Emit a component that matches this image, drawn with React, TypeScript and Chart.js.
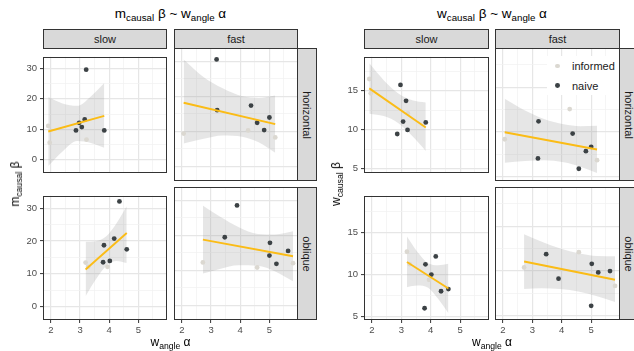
import React, { useEffect, useRef } from "react";
import { Chart, registerables } from "chart.js";
Chart.register(...registerables);

// ---------- axis ticks ----------
const xMajorTicks = [2, 3, 4, 5];
const xMinorTicks = [2.5, 3.5, 4.5, 5.5];
const xRange = [1.73, 5.98];
const mYMajorTicks = [0, 10, 20, 30];
const mYMinorTicks = [5, 15, 25];
const mYRange = [-4.15, 33.85];
const wYMajorTicks = [5, 10, 15];
const wYMinorTicks = [7.5, 12.5, 17.5];
const wYRange = [4.56, 19.35];

const columns = ["slow", "fast"];
const rows = ["horizontal", "oblique"];
const groups = ["informed", "naive"];

// ---------- w_angle alpha (shared by both plots) ----------
const slowHorizInformedX = [1.91, 1.96, 3.22];
const slowHorizNaiveX = [2.86, 2.97, 3.06, 3.16, 3.21, 3.83];
const fastHorizInformedX = [2.06, 4.27, 5.2];
const fastHorizNaiveX = [3.19, 3.21, 4.37, 4.58, 4.82, 5.0];
const slowObliqInformedX = [3.19, 3.28, 3.94];
const slowObliqNaiveX = [3.79, 3.82, 4.02, 4.17, 4.35, 4.6];
const fastObliqInformedX = [2.72, 4.58, 5.81];
const fastObliqNaiveX = [3.47, 3.89, 5.0, 5.02, 5.24, 5.64];

// ---------- m_causal beta ----------
const mSlowHorizInformedY = [11.1, 5.6, 6.6];
const mSlowHorizNaiveY = [9.6, 12.1, 10.7, 13.2, 29.6, 9.6];
const mFastHorizInformedY = [9.4, 10.3, 8.3];
const mFastHorizNaiveY = [30.6, 16.1, 17.4, 12.5, 10.4, 14.0];
const mSlowObliqInformedY = [13.4, 12.1, 12.1];
const mSlowObliqNaiveY = [13.5, 18.7, 13.9, 20.75, 32.1, 17.45];
const mFastObliqInformedY = [12.3, 10.85, 12.1];
const mFastObliqNaiveY = [19.5, 28.6, 14.25, 17.9, 11.9, 15.6];

// ---------- w_causal beta ----------
const wSlowHorizInformedY = [16.5, 14.67, 12.1];
const wSlowHorizNaiveY = [9.46, 15.74, 11.05, 13.7, 9.98, 10.94];
const wFastHorizInformedY = [9.2, 12.56, 6.88];
const wFastHorizNaiveY = [7.07, 11.2, 9.83, 5.92, 7.88, 8.36];
const wSlowObliqInformedY = [12.68, 11.21, 9.34];
const wSlowObliqNaiveY = [5.96, 11.18, 9.96, 12.13, 7.98, 8.24];
const wFastObliqInformedY = [10.4, 12.1, 8.35];
const wFastObliqNaiveY = [11.88, 9.15, 6.14, 10.81, 9.85, 10.0];

// ---------- fitted lines (ends) ----------
const slowHorizFitX = [1.91, 3.83];
const fastHorizFitX = [2.06, 5.2];
const slowObliqFitX = [3.19, 4.6];
const fastObliqFitX = [2.72, 5.81];
const mSlowHorizFitY = [9.25, 14.4];
const mFastHorizFitY = [18.2, 12.1];
const mSlowObliqFitY = [11.3, 22.45];
const mFastObliqFitY = [18.8, 14.05];
const wSlowHorizFitY = [15.3, 10.28];
const wFastHorizFitY = [9.98, 8.06];
const wSlowObliqFitY = [11.47, 8.31];
const wFastObliqFitY = [11.07, 9.04];

// ---------- confidence bands ----------
const slowHorizBandX = [1.91, 2.4, 2.9, 3.37, 3.83];
const fastHorizBandX = [2.06, 2.75, 3.4, 4.07, 4.63, 5.2];
const slowObliqBandX = [3.19, 3.55, 3.91, 4.25, 4.6];
const fastObliqBandX = [2.72, 3.3, 3.95, 4.6, 5.2, 5.81];
const mSlowHorizBandHi = [20.6, 18.5, 17.7, 20.8, 25.2];
const mSlowHorizBandLo = [-2.1, 2.7, 6.1, 5.5, 3.9];
const mFastHorizBandHi = [30.6, 25.5, 22.35, 20.05, 19.6, 20.3];
const mFastHorizBandLo = [6.6, 7.9, 8.85, 8.5, 6.9, 3.9];
const mSlowObliqBandHi = [19.8, 19.95, 21.5, 25.4, 30.6];
const mSlowObliqBandLo = [3.1, 8.35, 12.5, 13.9, 13.3];
const mFastObliqBandHi = [28.5, 25.4, 22.35, 20.45, 20.3, 21.2];
const mFastObliqBandLo = [9.1, 10.45, 11.5, 11.35, 9.7, 6.9];
const wSlowHorizBandHi = [18.5, 16.35, 14.64, 13.79, 13.5];
const wSlowHorizBandLo = [12.05, 11.75, 10.84, 9.19, 7.3];
const wFastHorizBandHi = [13.7, 12.4, 11.46, 10.86, 10.65, 10.7];
const wFastHorizBandLo = [6.6, 6.78, 6.86, 6.64, 6.15, 5.45];
const wSlowObliqBandHi = [14.5, 12.66, 11.31, 11.08, 11.25];
const wSlowObliqBandLo = [8.47, 8.66, 8.41, 7.08, 5.35];
const wFastObliqBandHi = [14.1, 13.3, 12.52, 11.96, 11.68, 11.65];
const wFastObliqBandLo = [8.02, 8.08, 8.0, 7.7, 7.2, 6.55];

// ---------- styles ----------
const FONT = '"Liberation Sans", Arial, Helvetica, sans-serif';
const NAIVE = "#3c4245";
const INFORMED = "#dbd8d1";
const FIT = "#fbbc16";
const RIBBON = "rgba(150,150,150,0.24)";
const POINT_R = 2.4;

const borderPlugin = {
  id: "panelBorder",
  afterDraw(chart: any) {
    const { ctx, chartArea } = chart;
    ctx.save();
    ctx.strokeStyle = "#333333";
    ctx.lineWidth = 1;
    ctx.strokeRect(
      Math.round(chartArea.left) + 0.5,
      Math.round(chartArea.top) + 0.5,
      Math.round(chartArea.right - chartArea.left) - 1,
      Math.round(chartArea.bottom - chartArea.top) - 1
    );
    ctx.restore();
  },
};

const pts = (xs: number[], ys: number[]) => xs.map((x, i) => ({ x, y: ys[i] }));

function Panel(p: any) {
  const ref = useRef<HTMLCanvasElement>(null);
  const yW = p.showY ? 32 : 0;
  const xH = p.showX ? 18 : 0;
  const cw = yW + p.width;
  const ch = xH + p.height;
  useEffect(() => {
    const xTicks = [...p.xMajor, ...p.xMinor].sort((a: number, b: number) => a - b);
    const yTicks = [...p.yMajor, ...p.yMinor].sort((a: number, b: number) => a - b);
    const isMajor = (list: number[], v: number) => list.some((m) => Math.abs(m - v) < 1e-9);
    const chart = new Chart(ref.current as HTMLCanvasElement, {
      type: "scatter",
      data: {
        datasets: [
          {
            type: "line",
            data: pts(p.fitX, p.fitY),
            borderColor: FIT,
            borderWidth: 1.9,
            pointRadius: 0,
            fill: false,
            order: 0,
          } as any,
          {
            type: "scatter",
            data: pts(p.naiveX, p.naiveY),
            backgroundColor: NAIVE,
            borderWidth: 0,
            pointRadius: POINT_R,
            order: 1,
          },
          {
            type: "scatter",
            data: pts(p.informedX, p.informedY),
            backgroundColor: INFORMED,
            borderWidth: 0,
            pointRadius: POINT_R,
            order: 2,
          },
          {
            type: "line",
            data: pts(p.bandX, p.bandHi),
            borderWidth: 0,
            borderColor: "rgba(0,0,0,0)",
            pointRadius: 0,
            backgroundColor: RIBBON,
            fill: "+1",
            cubicInterpolationMode: "monotone",
            order: 3,
          } as any,
          {
            type: "line",
            data: pts(p.bandX, p.bandLo),
            borderWidth: 0,
            borderColor: "rgba(0,0,0,0)",
            pointRadius: 0,
            fill: false,
            cubicInterpolationMode: "monotone",
            order: 4,
          } as any,
        ],
      },
      options: {
        responsive: false,
        maintainAspectRatio: false,
        animation: false,
        events: [],
        layout: { padding: 0, autoPadding: false } as any,
        plugins: { legend: { display: false }, tooltip: { enabled: false } },
        scales: {
          x: {
            type: "linear",
            min: xRange[0],
            max: xRange[1],
            afterBuildTicks: (s: any) => {
              s.ticks = xTicks.map((v) => ({ value: v }));
            },
            afterFit: (s: any) => {
              s.height = xH;
            },
            border: { display: false },
            grid: {
              color: (c: any) => (isMajor(p.xMajor, c.tick.value) ? "#e6e6e6" : "#f0f0f0"),
              lineWidth: (c: any) => (isMajor(p.xMajor, c.tick.value) ? 1.2 : 0.7),
              drawTicks: p.showX,
              tickLength: 3,
              tickColor: (c: any) => (isMajor(p.xMajor, c.tick.value) ? "#333333" : "rgba(0,0,0,0)"),
              tickWidth: 1,
            },
            ticks: {
              display: p.showX,
              autoSkip: false,
              maxRotation: 0,
              padding: 2,
              color: "#4d4d4d",
              font: { family: FONT, size: 9.5 },
              callback: (v: any) => (isMajor(p.xMajor, Number(v)) ? String(v) : ""),
            },
          },
          y: {
            type: "linear",
            min: p.yRange[0],
            max: p.yRange[1],
            afterBuildTicks: (s: any) => {
              s.ticks = yTicks.map((v) => ({ value: v }));
            },
            afterFit: (s: any) => {
              s.width = yW;
            },
            border: { display: false },
            grid: {
              color: (c: any) => (isMajor(p.yMajor, c.tick.value) ? "#e6e6e6" : "#f0f0f0"),
              lineWidth: (c: any) => (isMajor(p.yMajor, c.tick.value) ? 1.2 : 0.7),
              drawTicks: p.showY,
              tickLength: 3,
              tickColor: (c: any) => (isMajor(p.yMajor, c.tick.value) ? "#333333" : "rgba(0,0,0,0)"),
              tickWidth: 1,
            },
            ticks: {
              display: p.showY,
              autoSkip: false,
              padding: 3,
              color: "#4d4d4d",
              font: { family: FONT, size: 9.5 },
              callback: (v: any) => (isMajor(p.yMajor, Number(v)) ? String(v) : ""),
            },
          },
        },
      },
      plugins: [borderPlugin],
    });
    return () => chart.destroy();
  }, []);
  return (
    <canvas
      ref={ref}
      width={cw}
      height={ch}
      style={{ position: "absolute", left: p.left - yW, top: p.top, width: cw, height: ch }}
    />
  );
}

const stripStyle: any = {
  position: "absolute",
  background: "#d9d9d9",
  border: "1px solid #333333",
  boxSizing: "border-box",
  display: "flex",
  alignItems: "center",
  justifyContent: "center",
  fontSize: 11,
  color: "#1a1a1a",
  whiteSpace: "nowrap",
  overflow: "hidden",
};

function Sub({ base, sub, tail }: any) {
  return (
    <span>
      {base}
      <span style={{ fontSize: "72%", position: "relative", top: "0.3em" }}>{sub}</span>
      {tail}
    </span>
  );
}

function Facets(props: any) {
  const { colX, colW, rowY, rowH, stripRightX, yRange, yMajor, yMinor, panels } = props;
  const els: any[] = [];
  columns.forEach((c, ci) => {
    els.push(
      <div key={"ts" + ci} style={{ ...stripStyle, left: colX[ci], top: 29, width: colW, height: rowY[0] - 29 + 1 }}>
        {c}
      </div>
    );
  });
  rows.forEach((r, ri) => {
    els.push(
      <div key={"rs" + ri} style={{ ...stripStyle, left: stripRightX - 1, top: rowY[ri], width: 20, height: rowH }}>
        <span style={{ transform: "rotate(90deg)", display: "inline-block" }}>{r}</span>
      </div>
    );
  });
  rows.forEach((r, ri) =>
    columns.forEach((c, ci) => {
      const d = panels[ri][ci];
      els.push(
        <Panel
          key={"p" + ri + ci}
          left={colX[ci]}
          top={rowY[ri]}
          width={colW}
          height={rowH}
          showY={ci === 0}
          showX={ri === 1}
          xMajor={xMajorTicks}
          xMinor={xMinorTicks}
          yMajor={yMajor}
          yMinor={yMinor}
          yRange={yRange}
          {...d}
        />
      );
    })
  );
  return <>{els}</>;
}

export default function App() {
  const mPanels = [
    [
      { informedX: slowHorizInformedX, informedY: mSlowHorizInformedY, naiveX: slowHorizNaiveX, naiveY: mSlowHorizNaiveY, fitX: slowHorizFitX, fitY: mSlowHorizFitY, bandX: slowHorizBandX, bandHi: mSlowHorizBandHi, bandLo: mSlowHorizBandLo },
      { informedX: fastHorizInformedX, informedY: mFastHorizInformedY, naiveX: fastHorizNaiveX, naiveY: mFastHorizNaiveY, fitX: fastHorizFitX, fitY: mFastHorizFitY, bandX: fastHorizBandX, bandHi: mFastHorizBandHi, bandLo: mFastHorizBandLo },
    ],
    [
      { informedX: slowObliqInformedX, informedY: mSlowObliqInformedY, naiveX: slowObliqNaiveX, naiveY: mSlowObliqNaiveY, fitX: slowObliqFitX, fitY: mSlowObliqFitY, bandX: slowObliqBandX, bandHi: mSlowObliqBandHi, bandLo: mSlowObliqBandLo },
      { informedX: fastObliqInformedX, informedY: mFastObliqInformedY, naiveX: fastObliqNaiveX, naiveY: mFastObliqNaiveY, fitX: fastObliqFitX, fitY: mFastObliqFitY, bandX: fastObliqBandX, bandHi: mFastObliqBandHi, bandLo: mFastObliqBandLo },
    ],
  ];
  const wPanels = [
    [
      { informedX: slowHorizInformedX, informedY: wSlowHorizInformedY, naiveX: slowHorizNaiveX, naiveY: wSlowHorizNaiveY, fitX: slowHorizFitX, fitY: wSlowHorizFitY, bandX: slowHorizBandX, bandHi: wSlowHorizBandHi, bandLo: wSlowHorizBandLo },
      { informedX: fastHorizInformedX, informedY: wFastHorizInformedY, naiveX: fastHorizNaiveX, naiveY: wFastHorizNaiveY, fitX: fastHorizFitX, fitY: wFastHorizFitY, bandX: fastHorizBandX, bandHi: wFastHorizBandHi, bandLo: wFastHorizBandLo },
    ],
    [
      { informedX: slowObliqInformedX, informedY: wSlowObliqInformedY, naiveX: slowObliqNaiveX, naiveY: wSlowObliqNaiveY, fitX: slowObliqFitX, fitY: wSlowObliqFitY, bandX: slowObliqBandX, bandHi: wSlowObliqBandHi, bandLo: wSlowObliqBandLo },
      { informedX: fastObliqInformedX, informedY: wFastObliqInformedY, naiveX: fastObliqNaiveX, naiveY: wFastObliqNaiveY, fitX: fastObliqFitX, fitY: wFastObliqFitY, bandX: fastObliqBandX, bandHi: wFastObliqBandHi, bandLo: wFastObliqBandLo },
    ],
  ];

  const title: any = { position: "absolute", fontSize: 13.5, color: "#000", whiteSpace: "nowrap", transform: "translate(-50%, -50%)" };
  const axisTitle: any = { position: "absolute", fontSize: 12, color: "#000", whiteSpace: "nowrap", transform: "translate(-50%, -50%)" };
  const axisTitleY: any = { ...axisTitle, transform: "translate(-50%, -50%) rotate(-90deg)" };

  return (
    <div
      style={{
        position: "absolute",
        left: 0,
        top: 0,
        width: 634,
        height: 351,
        background: "#fff",
        overflow: "hidden",
        fontFamily: FONT,
      }}
    >
      <Facets colX={[43, 174]} colW={124} rowY={[48, 187]} rowH={133} stripRightX={298} yRange={mYRange} yMajor={mYMajorTicks} yMinor={mYMinorTicks} panels={mPanels} />
      <Facets colX={[364, 495]} colW={125} rowY={[48, 187]} rowH={133} stripRightX={620} yRange={wYRange} yMajor={wYMajorTicks} yMinor={wYMinorTicks} panels={wPanels} />

      <div style={{ ...title, left: 170.5, top: 13 }}>
        <Sub base="m" sub="causal" tail=" β ~ " />
        <Sub base="w" sub="angle" tail=" α" />
      </div>
      <div style={{ ...title, left: 492, top: 13 }}>
        <Sub base="w" sub="causal" tail=" β ~ " />
        <Sub base="w" sub="angle" tail=" α" />
      </div>

      <div style={{ ...axisTitle, left: 170.5, top: 342 }}>
        <Sub base="w" sub="angle" tail=" α" />
      </div>
      <div style={{ ...axisTitle, left: 492, top: 342 }}>
        <Sub base="w" sub="angle" tail=" α" />
      </div>
      <div style={{ ...axisTitleY, left: 15, top: 184 }}>
        <Sub base="m" sub="causal" tail=" β" />
      </div>
      <div style={{ ...axisTitleY, left: 336, top: 184 }}>
        <Sub base="w" sub="causal" tail=" β" />
      </div>

      {/* legend */}
      <div style={{ position: "absolute", left: 547, top: 56, width: 72, height: 39, background: "#fff" }}>
        {groups.map((g, i) => (
          <div key={g} style={{ position: "absolute", left: 0, top: 2 + i * 19.5, height: 16, width: 72 }}>
            <div
              style={{
                position: "absolute",
                left: 10.3 - POINT_R,
                top: 8 - POINT_R,
                width: POINT_R * 2,
                height: POINT_R * 2,
                borderRadius: "50%",
                background: g === "naive" ? NAIVE : INFORMED,
              }}
            />
            <div style={{ position: "absolute", left: 25, top: 0, lineHeight: "16px", fontSize: 11, color: "#1a1a1a" }}>{g}</div>
          </div>
        ))}
      </div>
    </div>
  );
}
